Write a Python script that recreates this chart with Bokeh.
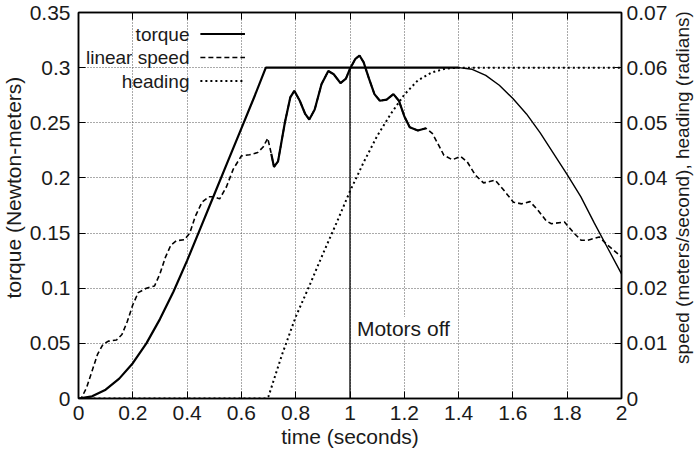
import math
from bokeh.plotting import figure
from bokeh.layouts import row
from bokeh.models import (Range1d, LinearAxis, FixedTicker, CustomJSTickFormatter,
                          Label)
from bokeh.embed import file_html
from bokeh.resources import INLINE

# ------------------------------------------------------------------ data
torque_time = [0.0, 0.05, 0.1, 0.15, 0.2, 0.25, 0.3, 0.35, 0.4, 0.45, 0.5, 0.55,
               0.6, 0.65, 0.69, 0.8, 0.9, 1.0, 1.1, 1.2, 1.3, 1.4, 1.45, 1.5,
               1.55, 1.6, 1.65, 1.7, 1.75, 1.8, 1.85, 1.9, 1.95, 2.0]
torque_nm = [0.0, 0.002, 0.008, 0.018, 0.032, 0.05, 0.072, 0.097, 0.125, 0.155,
             0.185, 0.215, 0.245, 0.275, 0.3, 0.3, 0.3, 0.3, 0.3, 0.3, 0.3, 0.3,
             0.2985, 0.293, 0.284, 0.272, 0.258, 0.241, 0.222, 0.203, 0.183,
             0.159, 0.136, 0.113]

speed_time = [0.0, 0.01, 0.03, 0.05, 0.07, 0.09, 0.11, 0.14, 0.16, 0.18, 0.2,
              0.22, 0.25, 0.28, 0.3, 0.32, 0.34, 0.36, 0.39, 0.41, 0.43, 0.455,
              0.48, 0.5, 0.52, 0.545, 0.57, 0.6, 0.63, 0.66, 0.68, 0.697, 0.71,
              0.72, 0.735, 0.76, 0.78, 0.795, 0.815, 0.835, 0.85, 0.87, 0.895,
              0.92, 0.94, 0.965, 0.985, 1.0, 1.02, 1.035, 1.05, 1.07, 1.09, 1.11,
              1.135, 1.16, 1.18, 1.2, 1.22, 1.25, 1.28, 1.303, 1.327, 1.346,
              1.377, 1.407, 1.432, 1.462, 1.492, 1.535, 1.566, 1.602, 1.632,
              1.663, 1.693, 1.723, 1.742, 1.79, 1.827, 1.851, 1.876, 1.918,
              1.949, 2.0]
speed_mps = [0.0, 0.0, 0.002, 0.005, 0.008, 0.0098, 0.0104, 0.0106, 0.0116,
             0.014, 0.017, 0.0192, 0.02, 0.0204, 0.0226, 0.0256, 0.0278, 0.0286,
             0.0288, 0.03, 0.033, 0.0356, 0.0366, 0.0366, 0.0362, 0.0384, 0.0416,
             0.044, 0.0442, 0.0446, 0.0456, 0.0472, 0.0444, 0.042, 0.043, 0.05,
             0.0546, 0.0558, 0.054, 0.0516, 0.0506, 0.0524, 0.057, 0.0594, 0.0588,
             0.0572, 0.058, 0.0598, 0.0616, 0.0622, 0.061, 0.058, 0.0552, 0.054,
             0.0542, 0.0552, 0.054, 0.0512, 0.0492, 0.0486, 0.049, 0.0481, 0.0459,
             0.0441, 0.0433, 0.0439, 0.0429, 0.0405, 0.0391, 0.0396, 0.0378,
             0.0356, 0.0353, 0.0357, 0.0341, 0.0322, 0.0317, 0.032, 0.0299,
             0.0287, 0.0287, 0.0293, 0.0278, 0.0257]

heading_time = [0.0, 0.69, 0.7, 0.75, 0.8, 0.85, 0.9, 0.95, 1.0, 1.05, 1.1, 1.15,
                1.2, 1.25, 1.3, 1.35, 1.4, 2.0]
heading_rad = [0.0, 0.0, 0.0004, 0.008, 0.0148, 0.0204, 0.0262, 0.0318, 0.0376,
               0.0428, 0.0476, 0.0516, 0.0551, 0.0577, 0.0591, 0.0598, 0.06, 0.06]

motors_off_time = 1.0
motors_off_text = "Motors off"

series_names = ["torque", "linear speed", "heading"]

x_ticks = [0.0, 0.2, 0.4, 0.6, 0.8, 1.0, 1.2, 1.4, 1.6, 1.8, 2.0]
x_tick_labels = ["0", "0.2", "0.4", "0.6", "0.8", "1", "1.2", "1.4", "1.6", "1.8", "2"]
y_ticks = [0.0, 0.05, 0.1, 0.15, 0.2, 0.25, 0.3, 0.35]
y_tick_labels = ["0", "0.05", "0.1", "0.15", "0.2", "0.25", "0.3", "0.35"]
y2_ticks = [0.0, 0.01, 0.02, 0.03, 0.04, 0.05, 0.06, 0.07]
y2_tick_labels = ["0", "0.01", "0.02", "0.03", "0.04", "0.05", "0.06", "0.07"]

x_label = "time (seconds)"
y_label = "torque (Newton-meters)"
y2_label = "speed (meters/second), heading (radians)"

# ------------------------------------------------------------------ layout
TOTAL_W, H = 700, 452
SIDE_L, SIDE_R = 26, 30           # narrow strips holding the y titles
W = TOTAL_W - SIDE_L - SIDE_R     # main figure width
BL, BR, BT, BB = 50, 46, 12, 54
FW, FH = W - BL - BR, H - BT - BB
X0, X1 = 0.0, 2.0
Y0, Y1 = 0.0, 0.35
Y20, Y21 = 0.0, 0.07
PX_X = FW / (X1 - X0)
PX_Y = FH / (Y1 - Y0)
FONT = "Liberation Sans"
TICK_FS = "21px"
LABEL_FS = "21px"
Y2_LABEL_FS = "19px"
LEGEND_FS = "19px"
GRID_COLOR = "#555555"
TEXT_COLOR = "#1a1a1a"

p = figure(width=W, height=H, x_range=Range1d(X0, X1), y_range=Range1d(Y0, Y1),
           output_backend="svg", toolbar_location=None,
           min_border_left=BL, min_border_right=BR,
           min_border_top=BT, min_border_bottom=BB,
           background_fill_color="white", border_fill_color="white")
p.extra_y_ranges = {"speed": Range1d(Y20, Y21)}
p.outline_line_color = "black"
p.outline_line_width = 1.5
p.outline_line_alpha = 1.0

FMT_CODE = """
let best = 0, d = Infinity;
for (let i = 0; i < tvals.length; i++) {
  const e = Math.abs(tvals[i] - tick);
  if (e < d) { d = e; best = i; }
}
return tlabels[best];
"""


def style_axis(ax, ticks, labels, standoff, show_labels=True, title=None, title_standoff=0):
    ax.ticker = FixedTicker(ticks=ticks)
    shown = labels if show_labels else [""] * len(labels)
    ax.formatter = CustomJSTickFormatter(args=dict(tvals=ticks, tlabels=shown), code=FMT_CODE)
    ax.major_tick_in = 7
    ax.major_tick_out = 0
    ax.minor_tick_in = 0
    ax.minor_tick_out = 0
    ax.axis_line_color = "black"
    ax.axis_line_width = 1.5
    ax.major_tick_line_color = "black"
    ax.major_tick_line_width = 1
    ax.major_label_text_font = FONT
    ax.major_label_text_font_size = TICK_FS if show_labels else "0px"
    ax.major_label_text_color = TEXT_COLOR
    ax.major_label_standoff = standoff
    if title:
        ax.axis_label = title
        ax.axis_label_text_font = FONT
        ax.axis_label_text_font_size = LABEL_FS
        ax.axis_label_text_font_style = "normal"
        ax.axis_label_text_color = TEXT_COLOR
        ax.axis_label_standoff = title_standoff


style_axis(p.below[0], x_ticks, x_tick_labels, 7, title=x_label, title_standoff=2)
style_axis(p.left[0], y_ticks, y_tick_labels, 8)

top_axis = LinearAxis()
style_axis(top_axis, x_ticks, x_tick_labels, 0, show_labels=False)
p.add_layout(top_axis, "above")

right_axis = LinearAxis(y_range_name="speed")
style_axis(right_axis, y2_ticks, y2_tick_labels, 5)
p.add_layout(right_axis, "right")

for g in (p.xgrid[0], p.ygrid[0]):
    g.grid_line_color = GRID_COLOR
    g.grid_line_dash = "1 2"
    g.grid_line_width = 1
    g.grid_line_alpha = 1.0

# ------------------------------------------------------------------ series
PLATEAU_END = 1.4
thick = [(t, v) for t, v in zip(torque_time, torque_nm) if t <= PLATEAU_END]
thin = [(t, v) for t, v in zip(torque_time, torque_nm) if t >= PLATEAU_END]
p.line([a for a, _ in thick], [b for _, b in thick], line_color="black", line_width=2.2)
p.line([a for a, _ in thin], [b for _, b in thin], line_color="black", line_width=1.4)

p.line(speed_time, speed_mps, y_range_name="speed", line_color="black",
       line_width=1.6, line_dash="5 3")
NOISY0, NOISY1 = 0.7, 1.29
noisy = [(t, v) for t, v in zip(speed_time, speed_mps) if NOISY0 <= t <= NOISY1]
p.line([a for a, _ in noisy], [b for _, b in noisy], y_range_name="speed",
       line_color="black", line_width=2.2)

p.line(heading_time, heading_rad, y_range_name="speed", line_color="black",
       line_width=2, line_dash="2 3")

# motors off marker
p.segment(x0=[motors_off_time], y0=[Y0], x1=[motors_off_time], y1=[max(torque_nm)],
          line_color="black", line_width=1.3)
p.add_layout(Label(x=motors_off_time + 7 / PX_X, y=70 / PX_Y, text=motors_off_text,
                   text_font=FONT, text_font_size=LABEL_FS, text_align="left",
                   text_baseline="middle", text_color=TEXT_COLOR,
                   background_fill_color="white", background_fill_alpha=1.0))

# ------------------------------------------------------------------ legend (text left, sample right)
LEG_TEXT_RIGHT = 112
LEG_S0, LEG_S1 = 123, 168
LEG_ROW0, LEG_STEP = 21.5, 23.5
styles = [dict(line_width=2.2), dict(line_width=1.6, line_dash="5 3"),
          dict(line_width=2, line_dash="2 3")]
for i, (name, st) in enumerate(zip(series_names, styles)):
    yy = Y1 - (LEG_ROW0 + i * LEG_STEP) / PX_Y
    p.add_layout(Label(x=X0 + LEG_TEXT_RIGHT / PX_X, y=yy, text=name, text_font=FONT,
                       text_font_size=LEGEND_FS, text_align="right",
                       text_baseline="middle", text_color=TEXT_COLOR))
    p.line([X0 + LEG_S0 / PX_X, X0 + LEG_S1 / PX_X], [yy, yy], line_color="black", **st)


# ------------------------------------------------------------------ y titles in side strips
def title_strip(width, text, cx, size):
    s = figure(width=width, height=H, x_range=Range1d(0, width), y_range=Range1d(0, H),
               output_backend="svg", toolbar_location=None,
               x_axis_location=None, y_axis_location=None, min_border=0,
               background_fill_color="white", border_fill_color="white")
    s.outline_line_color = None
    s.xgrid.visible = False
    s.ygrid.visible = False
    s.add_layout(Label(x=cx, y=H - (BT + FH / 2), text=text, angle=math.pi / 2,
                       text_font=FONT, text_font_size=size, text_align="center",
                       text_baseline="middle", text_color=TEXT_COLOR))
    return s


left_strip = title_strip(SIDE_L, y_label, 13, LABEL_FS)
right_strip = title_strip(SIDE_R, y2_label, 12, Y2_LABEL_FS)

layout = row(left_strip, p, right_strip)
open("out.html", "w").write(file_html(layout, INLINE))
